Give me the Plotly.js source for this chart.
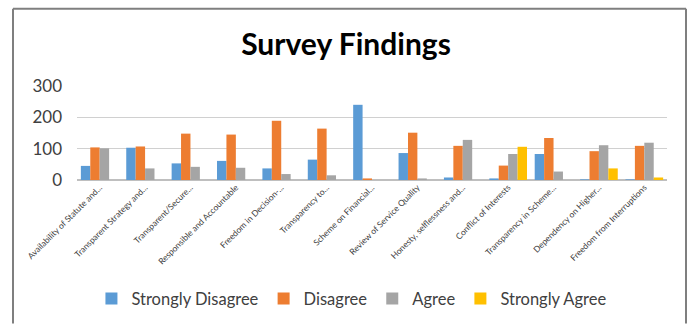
<!DOCTYPE html>
<html><head><meta charset="utf-8">
<script src="https://cdn.plot.ly/plotly-3.0.1.min.js"></script>
<style>html,body{margin:0;padding:0;background:#fff;}#chart{width:692px;height:326px;}</style>
</head><body><div id="chart"></div>
<script>
const categories = [
  "Availability of Statute and...",
  "Transparent Strategy and...",
  "Transparent/Secure...",
  "Responsible and Accountable",
  "Freedom in Decision-...",
  "Transparency to...",
  "Scheme on Financial...",
  "Review of Service Quality",
  "Honesty, selflessness and...",
  "Conflict of Interests",
  "Transparency in Scheme...",
  "Dependency on Higher...",
  "Freedom from Interruptions"
];
const stronglyDisagree = [45, 103, 53, 61, 37, 65, 240, 86, 8, 5, 83, 2, 2];
const disagree         = [104, 107, 148, 145, 189, 164, 5, 151, 109, 46, 134, 92, 109];
const agree            = [101, 37, 42, 39, 19, 15, 0, 5, 128, 83, 27, 111, 119];
const stronglyAgree    = [0, 0, 0, 0, 0, 0, 0, 0, 0, 106, 0, 37, 8];
const seriesNames = ["Strongly Disagree", "Disagree", "Agree", "Strongly Agree"];
const yTicks = [0, 100, 200, 300];

const colors = ["#5B9BD5", "#ED7D31", "#A5A5A5", "#FFC000"];
const values = [stronglyDisagree, disagree, agree, stronglyAgree];
const traces = values.map((v, i) => ({
  type: "bar", x: categories, y: v, name: seriesNames[i],
  marker: {color: colors[i]}, hoverinfo: "x+y+name"
}));

const W = 692, H = 326;
const layout = {
  width: W, height: H,
  margin: {l: 77, r: 25, t: 86, b: 145},
  paper_bgcolor: "#fff", plot_bgcolor: "#fff",
  font: {family: "Lato, 'Open Sans', sans-serif", color: "#404040"},
  title: {text: "<b>Survey Findings</b>", x: 0.5, xanchor: "center", y: 0.865, yanchor: "middle",
          font: {family: "Lato, 'Open Sans', sans-serif", size: 30, color: "#000"}},
  barmode: "group", bargap: 0.17, bargroupgap: 0,
  xaxis: {type: "category", tickangle: -45, tickfont: {size: 8.5, color: "#404040"},
          showline: false, showgrid: false, ticks: "", automargin: false},
  yaxis: {range: [0, 300], tickvals: yTicks, ticktext: yTicks.map(String),
          tickfont: {size: 17, color: "#404040"}, showgrid: true, gridcolor: "#D0D0D0", gridwidth: 1.5,
          zeroline: true, zerolinecolor: "#BFBFBF", zerolinewidth: 1.5, showline: false, ticks: "",
          ticklen: 0, ticklabelstandoff: 14, automargin: false, fixedrange: true},
  legend: {orientation: "h", x: 0.466, xanchor: "center", y: -1.24, yanchor: "middle",
           bgcolor: "rgba(0,0,0,0)",
           font: {size: 16.5, color: "#404040"}, itemwidth: 30, traceorder: "normal"},
  showlegend: true,
  shapes: [
    {type: "line", xref: "paper", yref: "paper", x0: (13-77)/590, x1: (13-77)/590, y0: -145/95, y1: (181-8)/95, line: {color: "#7F7F7F", width: 2}},
    {type: "line", xref: "paper", yref: "paper", x0: (13-77)/590, x1: (686-77)/590, y0: (181-8)/95, y1: (181-8)/95, line: {color: "#7F7F7F", width: 2}},
    {type: "line", xref: "paper", yref: "paper", x0: (686-77)/590, x1: (686-77)/590, y0: -145/95, y1: (181-8)/95, line: {color: "#7F7F7F", width: 2}}
  ]
};
Plotly.newPlot("chart", traces, layout, {displayModeBar: false, staticPlot: true});
</script></body></html>
